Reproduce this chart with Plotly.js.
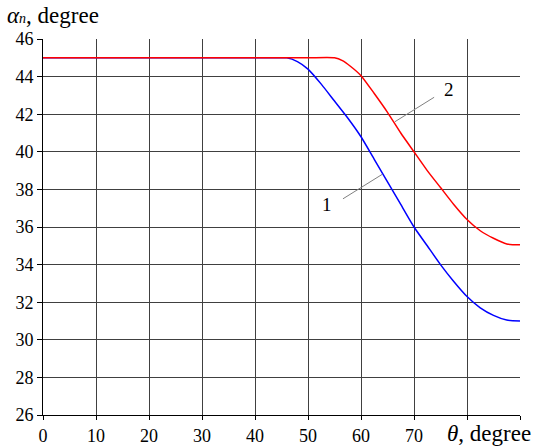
<!DOCTYPE html>
<html>
<head>
<meta charset="utf-8">
<script src="https://cdn.plot.ly/plotly-3.0.1.min.js"></script>
<style>html,body{margin:0;padding:0;background:#fff;}#chart{width:533px;height:447px;}</style>
</head>
<body>
<div id="chart"></div>
<script>
// Curve 1 (blue)
const theta1 = [0, 10, 20, 30, 40, 45, 46, 48, 50, 52.5, 55, 57.5, 60, 62.5, 65, 67.5, 70, 72.5, 75, 77.5, 80, 82.5, 85, 87.5, 90];
const alpha1 = [45, 45, 45, 45, 45, 45, 45, 44.8, 44.4, 43.6, 42.7, 41.8, 40.8, 39.6, 38.4, 37.2, 36.0, 35.0, 34.0, 33.1, 32.3, 31.7, 31.3, 31.05, 31.0];
// Curve 2 (red)
const theta2 = [0, 10, 20, 30, 40, 50, 55, 56.5, 58, 60, 62.5, 65, 67.5, 70, 72.5, 75, 77.5, 80, 82.5, 85, 87.5, 90];
const alpha2 = [45, 45, 45, 45, 45, 45, 45, 44.85, 44.55, 44.05, 43.1, 42.1, 41.0, 40.0, 39.0, 38.1, 37.2, 36.4, 35.8, 35.4, 35.1, 35.05];
// Ticks
const xTickVals = [0, 10, 20, 30, 40, 50, 60, 70, 80, 90];
const xTickText = ['0', '10', '20', '30', '40', '50', '60', '70', '', ''];
const yTickVals = [26, 28, 30, 32, 34, 36, 38, 40, 42, 44, 46];
// Curve labels: [label, text x, text y, leader x0, y0, x1, y1]
const labels = [
  ['1', 53.6, 37.2, 56.6, 37.5, 64.0, 38.8],
  ['2', 76.6, 43.3, 73.8, 42.9, 66.4, 41.6]
];

const font = 'Liberation Serif';
const traces = [
  {x: theta1, y: alpha1, type: 'scatter', mode: 'lines', line: {color: '#0000ff', width: 1.5, shape: 'spline', smoothing: 0.6}, hoverinfo: 'skip'},
  {x: theta2, y: alpha2, type: 'scatter', mode: 'lines', line: {color: '#ff0000', width: 1.5, shape: 'spline', smoothing: 0.6}, hoverinfo: 'skip'}
];
const shapes = labels.map(l => ({type: 'line', xref: 'x', yref: 'y', x0: l[3], y0: l[4], x1: l[5], y1: l[6], line: {color: '#808080', width: 1}}));
const annotations = labels.map(l => ({x: l[1], y: l[2], xref: 'x', yref: 'y', text: l[0], showarrow: false, font: {family: font, size: 19, color: '#000'}}));
annotations.push({xref: 'paper', yref: 'paper', x: 0, y: 1, xshift: -38, yshift: 9, xanchor: 'left', yanchor: 'bottom', text: '<i>α</i><span style="font-size:14px"><i>n</i></span>, degree', showarrow: false, font: {family: font, size: 23, color: '#000'}});
annotations.push({xref: 'paper', yref: 'paper', x: 1, y: 0, xshift: 13, yshift: -4, xanchor: 'right', yanchor: 'top', text: '<i>θ</i>, degree', showarrow: false, font: {family: font, size: 23, color: '#000'}});

const layout = {
  width: 533, height: 447,
  margin: {l: 43, r: 13, t: 39, b: 32},
  paper_bgcolor: '#fff', plot_bgcolor: '#fff',
  showlegend: false,
  font: {family: font, color: '#000', size: 18},
  xaxis: {range: [0, 90], tickvals: xTickVals, ticktext: xTickText, showgrid: true, gridcolor: '#404040', gridwidth: 1,
    showline: true, linecolor: '#000', linewidth: 1, ticks: 'outside', ticklen: 4, tickcolor: '#000', zeroline: false,
    tickfont: {family: font, size: 18, color: '#000'}},
  yaxis: {range: [26, 46], tickvals: yTickVals, showgrid: true, gridcolor: '#404040', gridwidth: 1,
    showline: true, linecolor: '#000', linewidth: 1, ticks: 'outside', ticklen: 5, tickcolor: '#000', zeroline: false,
    tickfont: {family: font, size: 18, color: '#000'}},
  shapes: shapes,
  annotations: annotations
};
Plotly.newPlot('chart', traces, layout, {staticPlot: true, displayModeBar: false});
</script>
</body>
</html>
